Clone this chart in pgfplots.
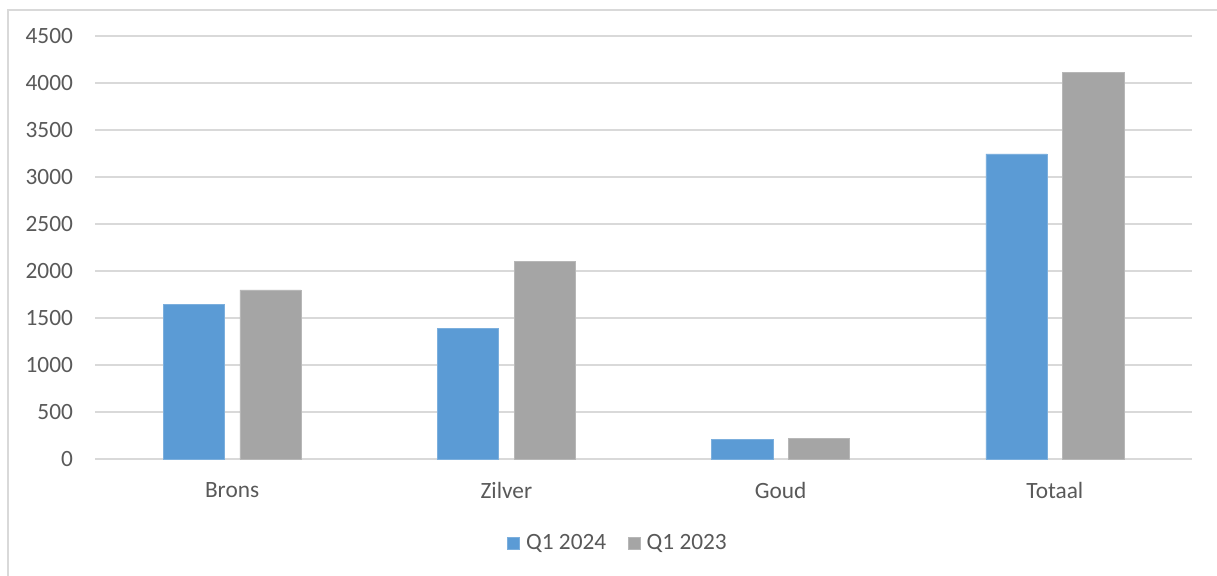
\documentclass[border=0pt]{standalone}
\usepackage{fontspec}
\setmainfont{Carlito}
\usepackage{pgfplots}
\pgfplotsset{compat=1.18}
\definecolor{qblue}{HTML}{5B9BD5}
\definecolor{qgray}{HTML}{A5A5A5}
\definecolor{txt}{HTML}{595959}
\definecolor{gridc}{HTML}{D9D9D9}
\begin{document}
\begin{tikzpicture}[x=0.75pt,y=0.75pt]
\useasboundingbox (0,0) rectangle (1217,575);
% chart frame (right and bottom edges fall outside the picture)
\draw[gridc, line width=1.5] (8,-20) -- (8,565) -- (1240,565);
\begin{axis}[
  at={(95*0.75pt,116*0.75pt)}, anchor=south west,
  scale only axis,
  width=822.75pt, height=317.25pt,
  ybar, bar width=0.223,
  xmin=-0.5, xmax=3.5,
  ymin=0, ymax=4500,
  ytick={0,500,...,4500},
  xtick=data,
  xticklabels={Brons,Zilver,Goud,Totaal},
  axis line style={draw=none},
  tick style={draw=none},
  ymajorgrids=true, xmajorgrids=false,
  grid style={draw=gridc, line width=1pt},
  font=\fontsize{17.5}{21}\selectfont,
  ticklabel style={text=txt},
  /pgf/number format/assume math mode=true,
  /pgf/number format/1000 sep={},
  yticklabel style={xshift=-13pt},
  xticklabel style={yshift=-10pt},
  legend style={at={(0.477,-0.199)}, anchor=center, draw=none,
    font=\fontsize{17.5}{21}\selectfont, text=txt,
    legend columns=2,
    /tikz/every even column/.append style={column sep=14pt}},
  legend image code/.code={\fill[#1] (0pt,-4.5pt) rectangle (9pt,4.5pt);},
]
\addplot[fill=qblue, draw=qblue!80!white, bar shift=-0.14] coordinates {(0,1645) (1,1390) (2,210) (3,3245)};
\addlegendentry{\,Q1 2024}
\addplot[fill=qgray, draw=qgray!80!white, bar shift=0.14] coordinates {(0,1800) (1,2100) (2,220) (3,4115)};
\addlegendentry{\,Q1 2023}
\end{axis}
\end{tikzpicture}
\end{document}
